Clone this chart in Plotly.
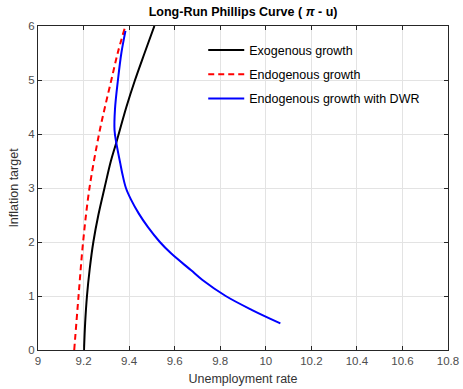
import plotly.graph_objects as go

# Exogenous growth
exo_pi = [0, 0.5, 1, 1.5, 2, 2.5, 3, 3.5, 3.83, 4.5, 5, 5.5, 6]
exo_u = [9.202, 9.207, 9.215, 9.227, 9.243, 9.265, 9.292, 9.320, 9.343, 9.388, 9.426, 9.468, 9.511]

# Endogenous growth
endo_pi = [0, 1, 2, 3, 4, 4.5, 5, 5.5, 5.95]
endo_u = [9.159, 9.178, 9.198, 9.226, 9.268, 9.294, 9.322, 9.350, 9.380]

# Endogenous growth with DWR
dwr_pi = [0.494, 0.74, 1.0, 1.296, 1.48, 1.79, 2.0, 2.28, 2.53, 2.78, 3.0, 3.27, 3.46, 3.83, 4.07, 4.46, 5.0, 5.5, 5.91]
dwr_u = [10.064, 9.940, 9.824, 9.722, 9.671, 9.584, 9.535, 9.482, 9.442, 9.409, 9.386, 9.370, 9.361, 9.344, 9.336, 9.338, 9.351, 9.366, 9.384]

x_ticks = [9, 9.2, 9.4, 9.6, 9.8, 10, 10.2, 10.4, 10.6, 10.8]
x_labels = ["9", "9.2", "9.4", "9.6", "9.8", "10", "10.2", "10.4", "10.6", "10.8"]
y_ticks = [0, 1, 2, 3, 4, 5, 6]

fig = go.Figure()
fig.add_trace(go.Scatter(x=exo_u, y=exo_pi, mode="lines", name="Exogenous growth",
                         line=dict(color="black", width=2, shape="spline", smoothing=1), legendgroup="a"))
fig.add_trace(go.Scatter(x=endo_u, y=endo_pi, mode="lines", name="Endogenous growth",
                         line=dict(color="red", width=2, dash="6px,4px", shape="spline", smoothing=1), legendgroup="b"))
fig.add_trace(go.Scatter(x=dwr_u, y=dwr_pi, mode="lines", name="Endogenous growth with DWR",
                         line=dict(color="blue", width=2, shape="spline", smoothing=1), legendgroup="c"))

axis_common = dict(showline=True, linecolor="#262626", linewidth=1, mirror="ticks",
                   ticks="inside", ticklen=4, tickcolor="#262626", automargin=False,
                   showgrid=True, gridcolor="#e3e3e3", gridwidth=1, zeroline=False,
                   tickfont=dict(size=11.5, color="#4d4d4d"))

fig.update_layout(
    width=463, height=389,
    margin=dict(l=38, r=15, t=26, b=39),
    paper_bgcolor="white", plot_bgcolor="white",
    font=dict(family="Liberation Sans, Arial, sans-serif", color="#262626"),
    title=dict(text="<b>Long-Run Phillips Curve ( <i>π</i> - u)</b>", x=0.525, xanchor="center",
               y=1 - 12 / 389, yanchor="middle", yref="container", font=dict(size=12.5, color="black")),
    xaxis=dict(range=[9, 10.8], tickvals=x_ticks, ticktext=x_labels,
               title=dict(text="Unemployment rate", font=dict(size=12.5, color="#333"), standoff=8), **axis_common),
    yaxis=dict(range=[0, 6], tickvals=y_ticks,
               title=dict(text="Inflation target", font=dict(size=12.5, color="#333"), standoff=6), **axis_common),
    legend=dict(x=0.403, y=0.971, xanchor="left", yanchor="top", bgcolor="rgba(255,255,255,0)",
                font=dict(size=12.5, color="black"), tracegroupgap=5, itemwidth=36),
)

fig.write_html("out.html")
